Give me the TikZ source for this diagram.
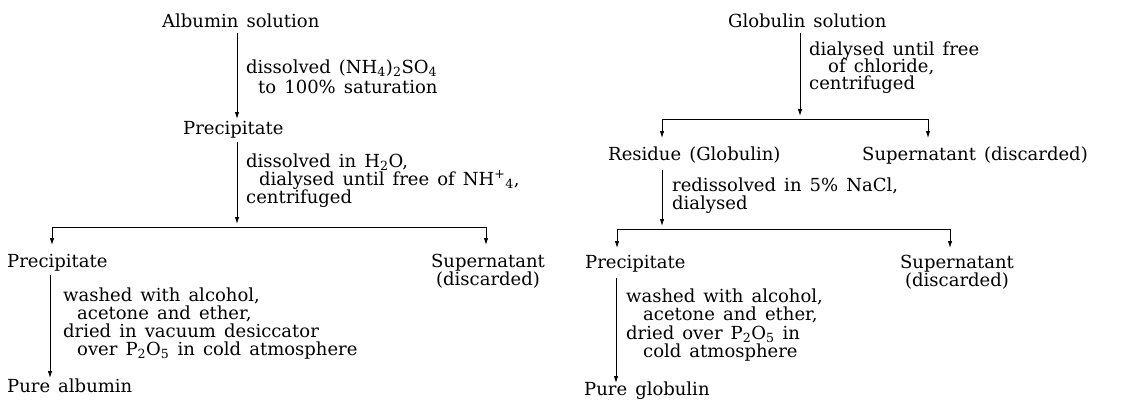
\documentclass[tikz,border=0pt]{standalone}
\usepackage{fontspec}
\setmainfont{DejaVu Serif}
\usetikzlibrary{arrows.meta}
\newcommand{\flowfont}{\fontsize{18}{18}\selectfont\spaceskip=0.45em\relax}
\tikzset{
  txt/.style={anchor=base west, inner sep=0pt, font=\flowfont},
  ctxt/.style={txt, anchor=base},
  flow/.style={line width=0.9pt, -{Latex[length=7pt,width=4.5pt]}},
  bar/.style={line width=0.9pt},
}
\begin{document}
\begin{tikzpicture}[x=1pt,y=-1pt]
\useasboundingbox (0,0) rectangle (1134,402);
\fill[white] (0,0) rectangle (1134,402);
% ---------------- left: albumin ----------------
\node[txt] (alb) at (162,27) {Albumin solution};
\node[txt] (l1a) at (246,73) {dissolved (NH\textsubscript{4})\textsubscript{2}SO\textsubscript{4}};
\node[txt] (l1b) at (258,93) {to 100\% saturation};
\node[txt] (pre1) at (183,134) {Precipitate};
\node[txt] (l2a) at (246,167) {dissolved in H\textsubscript{2}O,};
\node[txt] (l2b) at (259,185) {dialysed until free of NH\textsuperscript{+}\textsubscript{4},};
\node[txt] (l2c) at (246,203) {centrifuged};
\node[txt] (pre2) at (7,267) {Precipitate};
\node[ctxt] (sup1) at (488,267) {Supernatant};
\node[ctxt] (sup1b) at (488,285) {(discarded)};
\node[txt] (l3a) at (63,301) {washed with alcohol,};
\node[txt] (l3b) at (77,319) {acetone and ether,};
\node[txt] (l3c) at (63,337) {dried in vacuum desiccator};
\node[txt] (l3d) at (77,355) {over P\textsubscript{2}O\textsubscript{5} in cold atmosphere};
\node[txt] (pure1) at (7,392) {Pure albumin};

\coordinate (a1s) at (237,33);  \coordinate (a1e) at (237,119);
\coordinate (a2s) at (237,142); \coordinate (a2e) at (237,224);
\coordinate (bL) at (52,227);   \coordinate (bR) at (486,227);
\coordinate (bLe) at (52,245);  \coordinate (bRe) at (486,245);
\coordinate (a3s) at (50,275);  \coordinate (a3e) at (50,378);
\draw[flow] (a1s) -- (a1e);
\draw[flow] (a2s) -- (a2e);
\draw[bar] (bL) -- (bR);
\draw[flow] (bL) -- (bLe);
\draw[flow] (bR) -- (bRe);
\draw[flow] (a3s) -- (a3e);

% ---------------- right: globulin ----------------
\node[txt] (glo) at (728,27) {Globulin solution};
\node[txt] (r1a) at (809,55) {dialysed until free};
\node[txt] (r1b) at (828,72) {of chloride,};
\node[txt] (r1c) at (809,89) {centrifuged};
\node[txt] (res) at (608,160) {Residue (Globulin)};
\node[txt] (sup2) at (862,160) {Supernatant (discarded)};
\node[txt] (r2a) at (672,191) {redissolved in 5\% NaCl,};
\node[txt] (r2b) at (672,209) {dialysed};
\node[txt] (pre3) at (585,268) {Precipitate};
\node[ctxt] (sup3) at (957,268) {Supernatant};
\node[ctxt] (sup3b) at (957,286) {(discarded)};
\node[txt] (r3a) at (626,302) {washed with alcohol,};
\node[txt] (r3b) at (643,320) {acetone and ether,};
\node[txt] (r3c) at (626,339) {dried over P\textsubscript{2}O\textsubscript{5} in};
\node[txt] (r3d) at (643,357) {cold atmosphere};
\node[txt] (pure2) at (584,395) {Pure globulin};

\coordinate (g1s) at (800,33);  \coordinate (g1e) at (800,116);
\coordinate (cL) at (662,119);  \coordinate (cR) at (928,119);
\coordinate (cLe) at (662,138); \coordinate (cRe) at (928,138);
\coordinate (g2s) at (662,170); \coordinate (g2e) at (662,226);
\coordinate (dL) at (617,229);  \coordinate (dR) at (950,229);
\coordinate (dLe) at (617,248); \coordinate (dRe) at (950,248);
\coordinate (g3s) at (616,278); \coordinate (g3e) at (616,383);
\draw[flow] (g1s) -- (g1e);
\draw[bar] (cL) -- (cR);
\draw[flow] (cL) -- (cLe);
\draw[flow] (cR) -- (cRe);
\draw[flow] (g2s) -- (g2e);
\draw[bar] (dL) -- (dR);
\draw[flow] (dL) -- (dLe);
\draw[flow] (dR) -- (dRe);
\draw[flow] (g3s) -- (g3e);
\end{tikzpicture}
\end{document}
